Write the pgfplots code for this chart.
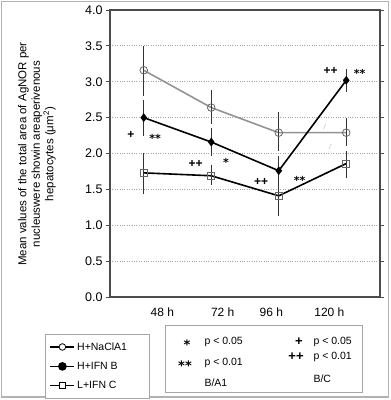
\documentclass[border=0pt]{standalone}
\usepackage{pgfplots}
\pgfplotsset{compat=1.18}
\usepackage{fontspec}
\setmainfont{Liberation Sans}
\newfontfamily\dv{DejaVu Sans}
\begin{document}
\begin{tikzpicture}[x=1pt,y=1pt]
\useasboundingbox (0,0) rectangle (391,-400);
\draw[gray!60, line width=1.2pt] (1.5,-1.5) rectangle (388.5,-397);
\begin{axis}[
  at={(110pt,-297pt)}, anchor=south west,
  scale only axis, width=270pt, height=287pt,
  xmin=0.5, xmax=4.5, ymin=0, ymax=4,
  axis line style={draw=black!70, line width=1.2pt},
  ytick={0,0.5,...,4}, 
  yticklabel style={font=\fontsize{12.5}{12.5}\selectfont, /pgf/number format/.cd, fixed, fixed zerofill, precision=1},
  /pgf/number format/assume math mode=true,
  tick align=outside, major tick length=4pt,
  ytick style={draw=black!70, line width=0.8pt},
  xtick={1.276,2.17,2.89,3.75},
  xticklabels={48 h,72 h,96 h,120 h},
  xtick style={draw=none},
  xticklabel style={font=\fontsize{12}{12}\selectfont, yshift=-3pt},
  ymajorgrids, grid style={gray!70, dotted, line width=0.8pt},
  clip=false,
  legend style={at={(axis description cs:-0.240,-0.129)}, anchor=north west,
    draw=gray!70, line width=0.8pt, font=\fontsize{10.5}{10.5}\selectfont,
    inner xsep=4pt, inner ysep=6pt, row sep=6.5pt},
  legend cell align=left,
]
\addplot[gray!85, line width=1.6pt, mark=o, mark size=3.8pt,
  mark options={draw=black!60, fill=white, line width=0.8pt},
  legend image code/.code={\draw[black, line width=1.2pt] (0pt,0pt) -- (24pt,0pt); \filldraw[draw=black, fill=white, line width=0.8pt] (12pt,0pt) circle (3.3pt);},
  error bars/.cd, y dir=both, y explicit,
  error bar style={black!80, line width=0.8pt},
  error mark options={black!80, line width=0.8pt, mark size=3pt}]
  coordinates {
  (1,3.16) += (0,0.30) -= (0,0.31)
  (2,2.64) += (0,0.20) -= (0,0.18)
  (3,2.29) += (0,0.24) -= (0,0.22)
  (4,2.29) += (0,0.16) -= (0,0.14)
  };
\addlegendentry{H+NaClA1\hspace*{16pt}}
\addplot[black, line width=1.6pt, mark=diamond*, mark size=4pt,
  mark options={fill=black, line width=0.5pt},
  legend image code/.code={\draw[black, line width=1.6pt] (0pt,0pt) -- (24pt,0pt); \fill[black] (12pt,0pt) circle (3.5pt);},
  error bars/.cd, y dir=both, y explicit,
  error bar style={black!80, line width=0.8pt},
  error mark options={black!80, line width=0.8pt, mark size=3pt}]
  coordinates {
  (1,2.50) += (0,0.20) -= (0,0.21)
  (2,2.16) += (0,0.15) -= (0,0.15)
  (3,1.76) += (0,0.17) -= (0,0.16)
  (4,3.02) += (0,0.11) -= (0,0.12)
  };
\addlegendentry{H+IFN B}
\addplot[black, line width=1.6pt, mark=square, mark size=3.6pt,
  mark options={draw=black!60, fill=white, line width=0.8pt},
  legend image code/.code={\draw[black, line width=1.2pt] (0pt,0pt) -- (24pt,0pt); \filldraw[draw=black, fill=white, line width=0.8pt] (8.8pt,-3.2pt) rectangle (15.2pt,3.2pt);},
  error bars/.cd, y dir=both, y explicit,
  error bar style={black!80, line width=0.8pt},
  error mark options={black!80, line width=0.8pt, mark size=3pt}]
  coordinates {
  (1,1.73) += (0,0.24) -= (0,0.25)
  (2,1.69) += (0,0.11) -= (0,0.09)
  (3,1.41) += (0,0.19) -= (0,0.24)
  (4,1.86) += (0,0.14) -= (0,0.16)
  };
\addlegendentry{L+IFN C}
\begin{scope}[every node/.style={font=\fontsize{12}{12}\selectfont\bfseries}]
\node at (axis cs:0.81,2.26) {+};
\node[font=\dv\fontsize{11}{11}\selectfont\bfseries, yshift=-2.5pt] at (axis cs:1.17,2.25) {**};
\node at (axis cs:1.77,1.86) {++};
\node[font=\dv\fontsize{11}{11}\selectfont\bfseries, yshift=-2.5pt] at (axis cs:2.22,1.91) {*};
\node at (axis cs:2.74,1.61) {++};
\node[font=\dv\fontsize{11}{11}\selectfont\bfseries, yshift=-2.5pt] at (axis cs:3.31,1.66) {**};
\node at (axis cs:3.77,3.15) {++};
\node[font=\dv\fontsize{11}{11}\selectfont\bfseries, yshift=-2.5pt] at (axis cs:4.20,3.15) {**};
\end{scope}
\node[gray!60, font=\fontsize{7}{7}\selectfont\itshape] at (axis cs:3.68,2.37) {/};
\node[gray!60, font=\fontsize{7}{7}\selectfont\itshape] at (axis cs:3.76,2.09) {/};
\end{axis}
\node[rotate=90, align=center, font=\fontsize{11.5}{13.5}\selectfont] at (37,-154)
 {Mean values of the total area of AgNOR per\\nucleuswere showin areaperivenous\\hepatocytes (μm\textsuperscript{2})};
\draw[gray!70, line width=0.8pt] (165,-325) rectangle (362,-392);
\begin{scope}[every node/.style={font=\fontsize{10.5}{10.5}\selectfont, anchor=west}]
\node[font=\dv\fontsize{13}{13}\selectfont\bfseries, anchor=center, yshift=-3pt] at (187,-342) {*};
\node at (201,-342) {p < 0.05};
\node[font=\dv\fontsize{13}{13}\selectfont\bfseries, anchor=center, yshift=-3pt] at (185,-363) {**};
\node at (201,-363) {p < 0.01};
\node at (201,-383) {B/A1};
\node[font=\fontsize{13}{13}\selectfont\bfseries, anchor=center] at (299,-342) {+};
\node at (310,-342) {p < 0.05};
\node[font=\fontsize{13}{13}\selectfont\bfseries, anchor=center] at (296,-357) {++};
\node at (310,-357) {p < 0.01};
\node at (310,-379) {B/C};
\end{scope}
\end{tikzpicture}
\end{document}
